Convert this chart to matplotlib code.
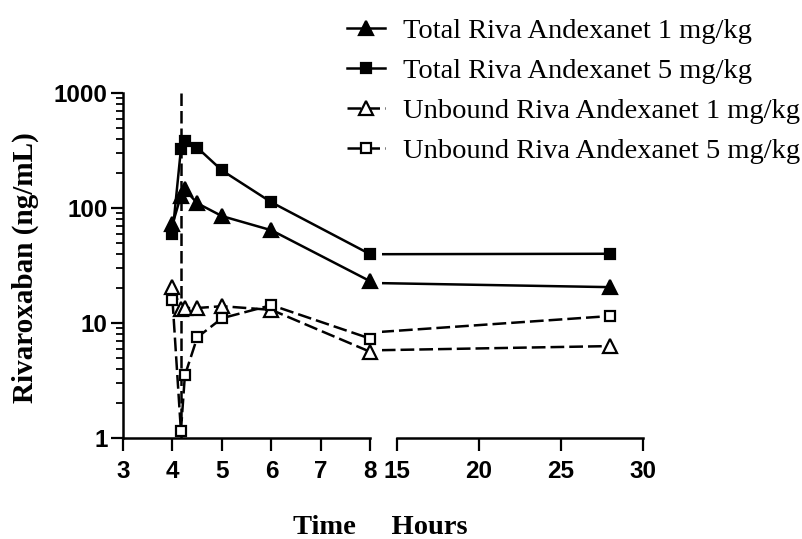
import numpy as np
import matplotlib
matplotlib.use("Agg")
import matplotlib.pyplot as plt
from matplotlib.ticker import FixedLocator, NullFormatter, LogLocator

# data (hours, ng/mL)
time = [4, 4.17, 4.25, 4.5, 5, 6, 8, 28]
total_1 = [72, 128, 145, 110, 85, 64, 23, 20.5]
total_5 = [60, 325, 385, 335, 212, 112, 39.5, 40]
unbound_1 = [20.5, 13.3, 13.5, 13.5, 14, 13, 5.6, 6.3]
unbound_5 = [15.8, 1.15, 3.5, 7.5, 11, 14.3, 7.3, 11.5]
bolus_end = 4.17

labels = ["Total Riva Andexanet 1 mg/kg", "Total Riva Andexanet 5 mg/kg",
          "Unbound Riva Andexanet 1 mg/kg", "Unbound Riva Andexanet 5 mg/kg"]
left_ticks = [3, 4, 5, 6, 7, 8]
right_ticks = [15, 20, 25, 30]
y_ticks = [1, 10, 100, 1000]

serif = "Liberation Serif"
sans = "Liberation Sans"

W, H = 803, 539
fig = plt.figure(figsize=(W / 100, H / 100), dpi=100)
bot = 1 - 438 / H
hgt = (438 - 93) / H
ax1 = fig.add_axes([123 / W, bot, (370.5 - 123) / W, hgt])
ax2 = fig.add_axes([381.9 / W, bot, (643.3 - 381.9) / W, hgt])

dash = (0, (5.5, 2))
styles = [
    dict(marker="^", ms=9.5, ls="-", mfc="black"),
    dict(marker="s", ms=7.5, ls="-", mfc="black"),
    dict(marker="^", ms=9.5, ls=dash, mfc="white"),
    dict(marker="s", ms=7.5, ls=dash, mfc="white"),
]
series = [total_1, total_5, unbound_1, unbound_5]

t = np.array(time)
handles = []
for vals, st in zip(series, styles):
    v = np.array(vals)
    m = t <= 8
    h, = ax1.plot(t[m], v[m], color="black", lw=1.8, mec="black", mew=1.6,
                  clip_on=False, zorder=3, **st)
    ax2.plot(t, v, color="black", lw=1.8, mec="black", mew=1.6, zorder=3, **st)
    handles.append(h)

ax1.vlines(bolus_end, 1, 1000, colors="black", lw=1.8, linestyles=(0, (5, 2)),
           clip_on=False, zorder=2)

for ax in (ax1, ax2):
    ax.set_yscale("log")
    ax.set_ylim(1, 1000)
    for s in ("top", "right"):
        ax.spines[s].set_visible(False)
    for s in ("left", "bottom"):
        ax.spines[s].set_linewidth(1.8)

ax1.set_xlim(3, 8)
ax2.set_xlim(14.1, 30)
ax2.spines["left"].set_visible(False)
ax2.spines["bottom"].set_bounds(15, 30)
ax2.yaxis.set_visible(False)

ax1.set_xticks(left_ticks)
ax1.set_xticks([8], minor=True)
ax2.set_xticks(right_ticks)
ax2.set_xticks([15], minor=True)
ax1.yaxis.set_major_locator(FixedLocator(y_ticks))
ax1.set_yticklabels([str(v) for v in y_ticks])
ax1.yaxis.set_minor_locator(LogLocator(base=10, subs=np.arange(2, 10)))
ax1.yaxis.set_minor_formatter(NullFormatter())

for ax in (ax1, ax2):
    ax.tick_params(axis="x", which="major", direction="out", length=9, width=1.6, pad=7)
    ax.tick_params(axis="x", which="minor", direction="in", length=7, width=1.6)
    for lab in ax.get_xticklabels():
        lab.set_fontfamily(sans)
        lab.set_fontweight("bold")
        lab.set_fontsize(17.5)
ax1.tick_params(axis="y", which="major", direction="out", length=9, width=1.6, pad=2)
ax1.tick_params(axis="y", which="minor", direction="out", length=5, width=1.3)
for lab in ax1.get_yticklabels():
    lab.set_fontfamily(sans)
    lab.set_fontweight("bold")
    lab.set_fontsize(17.5)

fig.text(25.5 / W, 1 - 267.5 / H, "Rivaroxaban (ng/mL)", rotation=90,
         ha="center", va="center", family=serif, weight="bold", fontsize=21)
fig.text(293 / W, 4.5 / H, "Time     Hours", ha="left", va="baseline",
         family=serif, weight="bold", fontsize=20.5)

fig.legend(handles, labels, loc="upper left", bbox_to_anchor=(347 / W, 1 - 18 / H),
           frameon=False, prop=dict(family=serif, size=20.5), handlelength=1.35,
           handletextpad=0.6, labelspacing=0.5, borderaxespad=0, borderpad=0)

fig.savefig("out.png", dpi=100)
